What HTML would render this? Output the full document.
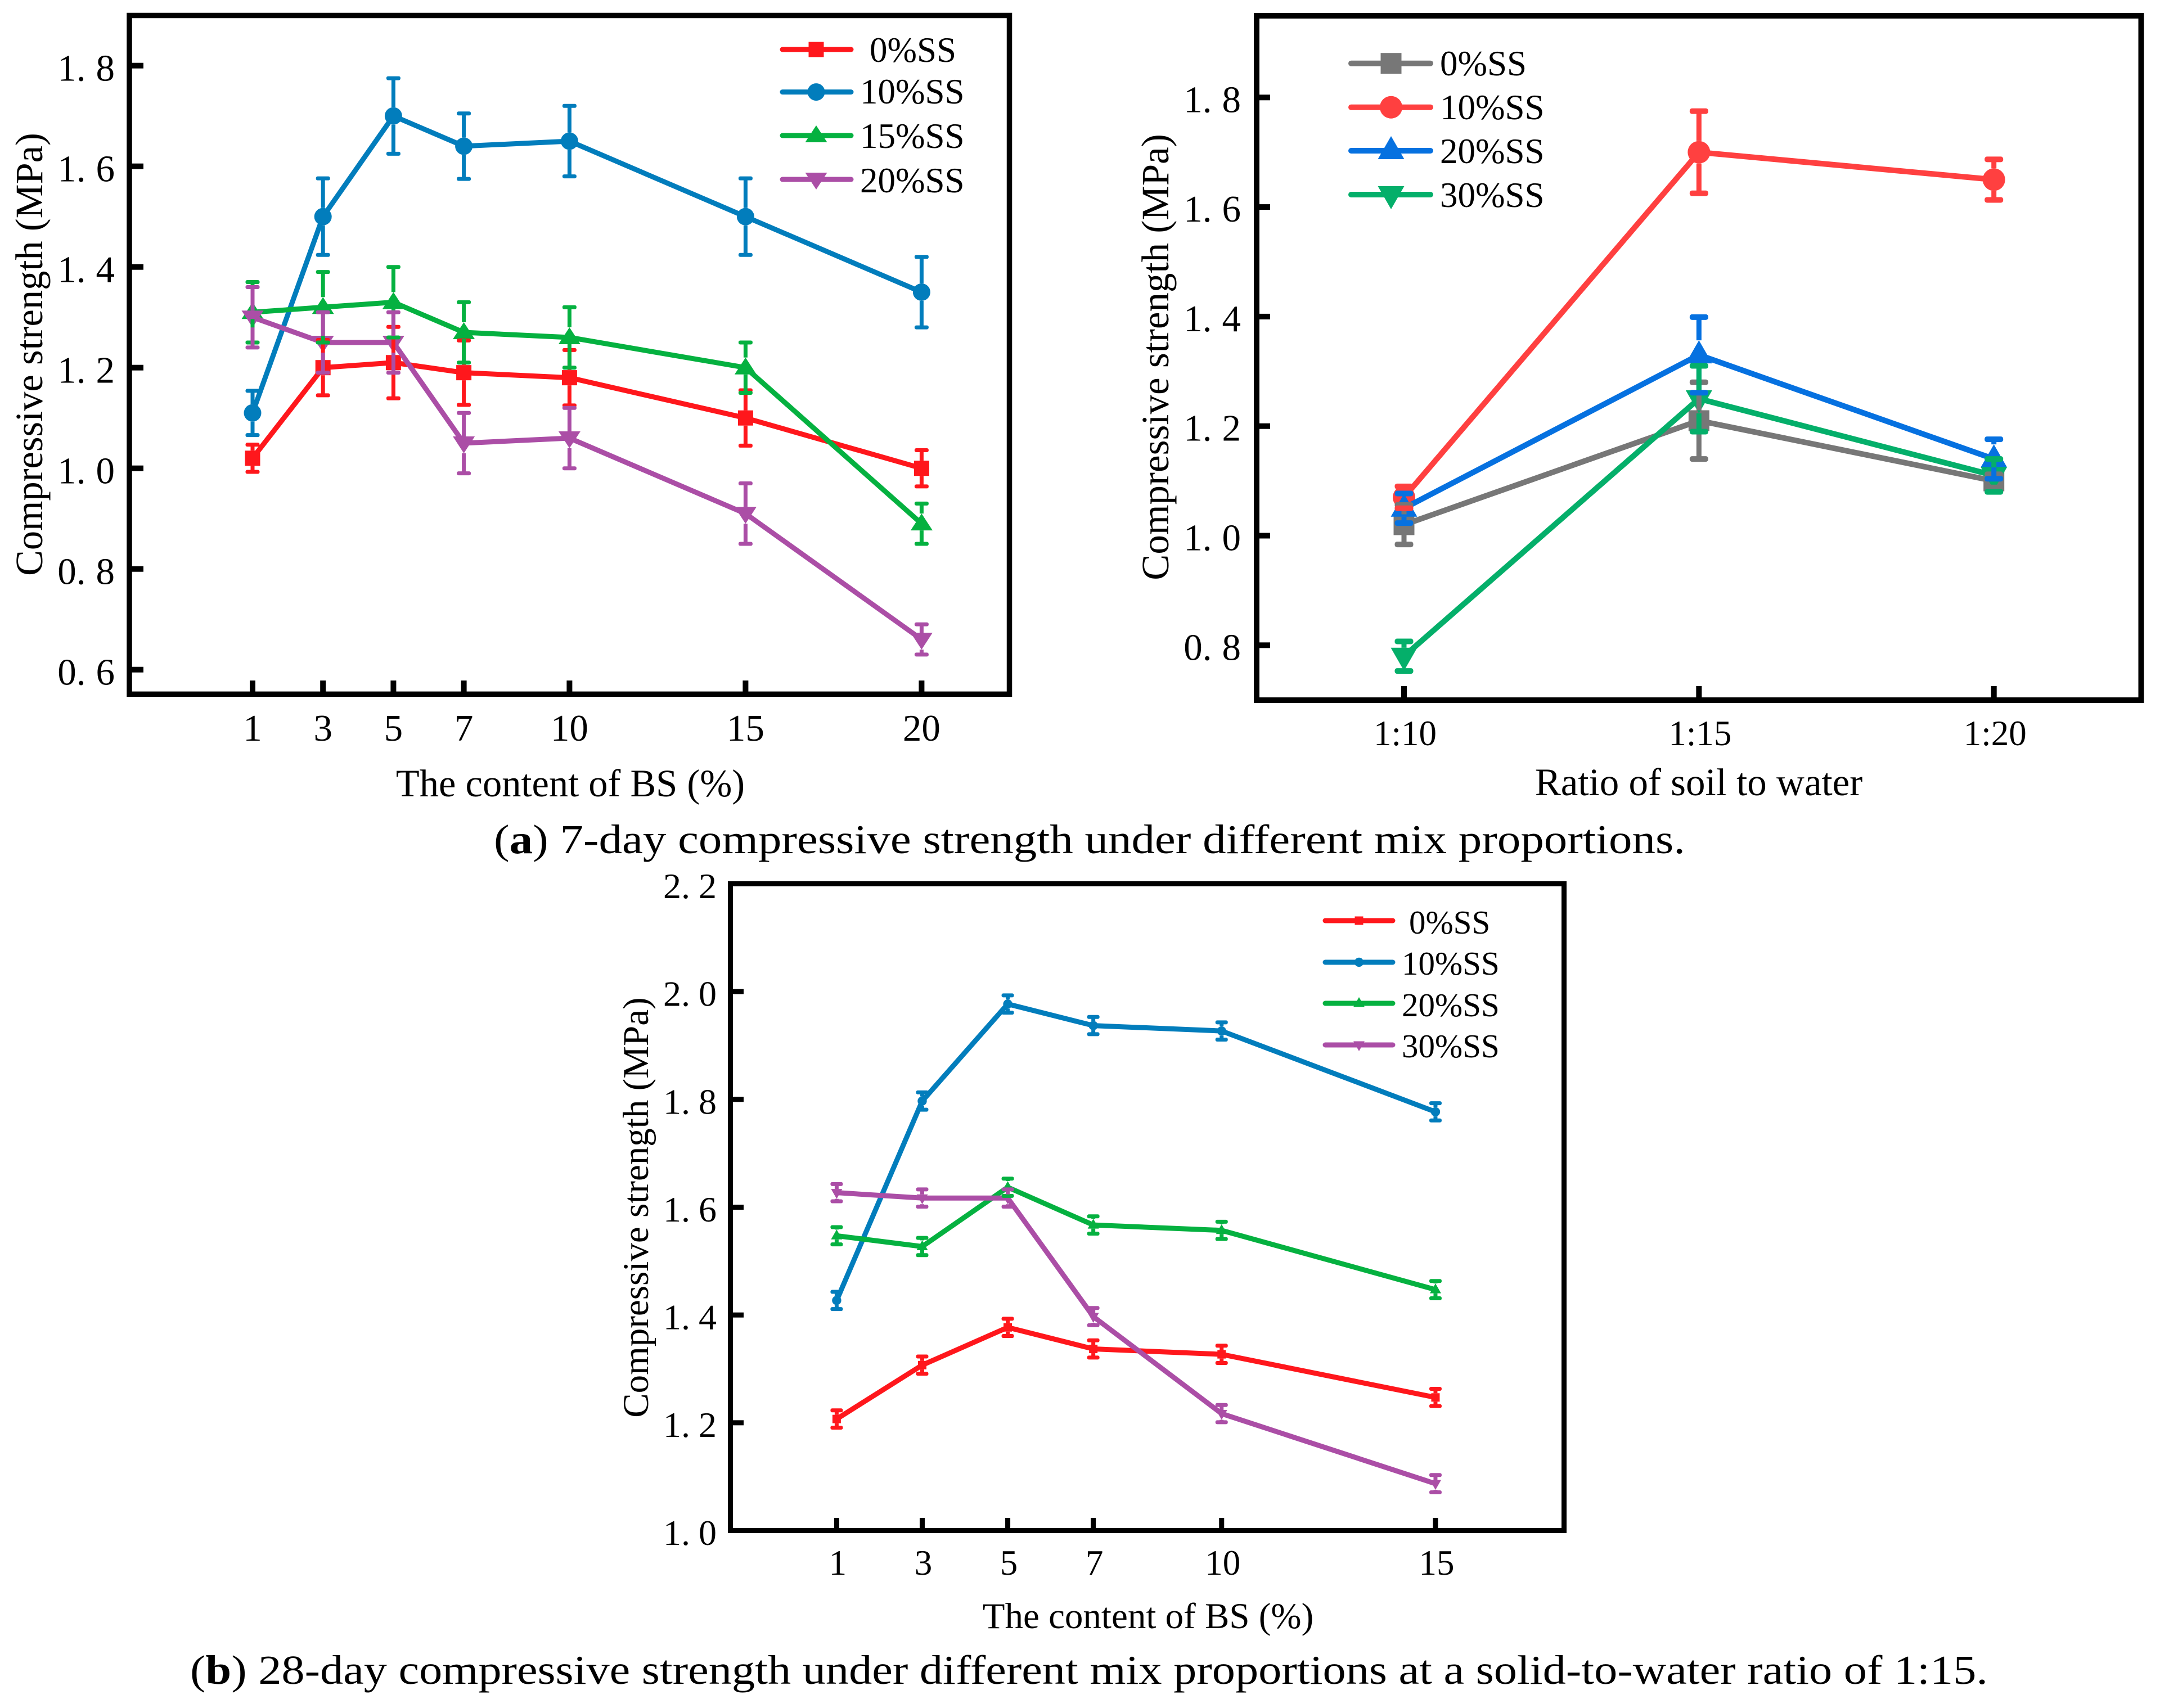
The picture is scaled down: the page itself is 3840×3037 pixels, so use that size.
<!DOCTYPE html>
<html lang="en">
<head>
<meta charset="utf-8">
<title>Compressive strength charts</title>
<style>
html,body{margin:0;padding:0;background:#fff}
svg{display:block}
text{font-family:"Liberation Serif",serif;fill:#000}
</style>
</head>
<body>
<svg id="fig" xmlns="http://www.w3.org/2000/svg" width="3840" height="3037" viewBox="0 0 3840 3037">
<rect x="0" y="0" width="3840" height="3037" fill="#fff"/>
<text x="878" y="1517" font-size="73" textLength="2118" lengthAdjust="spacingAndGlyphs">(<tspan font-weight="bold">a</tspan>) 7-day compressive strength under different mix proportions.</text>
<text x="338" y="2994" font-size="73" textLength="3196" lengthAdjust="spacingAndGlyphs">(<tspan font-weight="bold">b</tspan>) 28-day compressive strength under different mix proportions at a solid-to-water ratio of 1:15.</text>
</svg>
<script>
// ---------- Chart A data: 7-day strength vs BS content ----------
const aCategories = [1, 3, 5, 7, 10, 15, 20];
const aYTicks = [0.6, 0.8, 1.0, 1.2, 1.4, 1.6, 1.8];
const aNames = ['0%SS', '10%SS', '15%SS', '20%SS'];
const aSS0 = [1.02, 1.20, 1.21, 1.19, 1.18, 1.10, 1.00];
const aSS0Err = [0.027, 0.055, 0.071, 0.064, 0.055, 0.055, 0.036];
const aSS10 = [1.11, 1.50, 1.70, 1.64, 1.65, 1.50, 1.35];
const aSS10Err = [0.044, 0.076, 0.075, 0.065, 0.070, 0.076, 0.070];
const aSS15 = [1.31, 1.32, 1.33, 1.27, 1.26, 1.20, 0.89];
const aSS15Err = [0.060, 0.070, 0.070, 0.060, 0.060, 0.050, 0.040];
const aSS20 = [1.30, 1.25, 1.25, 1.05, 1.06, 0.91, 0.66];
const aSS20Err = [0.060, 0.060, 0.060, 0.060, 0.060, 0.060, 0.030];

// ---------- Chart B data: 7-day strength vs soil/water ratio ----------
const bCategories = ['1:10', '1:15', '1:20'];
const bYTicks = [0.8, 1.0, 1.2, 1.4, 1.6, 1.8];
const bNames = ['0%SS', '10%SS', '20%SS', '30%SS'];
const bSS0 = [1.02, 1.21, 1.10];
const bSS0Err = [0.036, 0.070, 0.012];
const bSS10 = [1.07, 1.70, 1.65];
const bSS10Err = [0.020, 0.075, 0.037];
const bSS20 = [1.05, 1.33, 1.14];
const bSS20Err = [0.027, 0.069, 0.036];
const bSS30 = [0.78, 1.25, 1.11];
const bSS30Err = [0.027, 0.060, 0.030];

// ---------- Chart C data: 28-day strength vs BS content ----------
const cCategories = [1, 3, 5, 7, 10, 15];
const cYTicks = [1.0, 1.2, 1.4, 1.6, 1.8, 2.0, 2.2];
const cNames = ['0%SS', '10%SS', '20%SS', '30%SS'];
const cSS0 = [1.207, 1.307, 1.377, 1.337, 1.327, 1.247];
const cSS0Err = [0.016, 0.016, 0.016, 0.016, 0.016, 0.016];
const cSS10 = [1.427, 1.797, 1.977, 1.937, 1.927, 1.777];
const cSS10Err = [0.016, 0.016, 0.016, 0.016, 0.016, 0.016];
const cSS20 = [1.547, 1.527, 1.637, 1.567, 1.557, 1.447];
const cSS20Err = [0.016, 0.016, 0.016, 0.016, 0.016, 0.016];
const cSS30 = [1.627, 1.617, 1.617, 1.397, 1.217, 1.087];
const cSS30Err = [0.016, 0.016, 0.016, 0.016, 0.016, 0.016];

const svg = document.getElementById('fig');
const NS = 'http://www.w3.org/2000/svg';

function mk(tag, attrs, parent) {
  const el = document.createElementNS(NS, tag);
  for (const k in attrs) el.setAttribute(k, attrs[k]);
  parent.appendChild(el);
  return el;
}

function markerShape(kind, x, y, color, size, parent) {
  let el;
  if (kind === 'square') {
    el = mk('rect', {x: x - size.sq, y: y - size.sq, width: size.sq * 2, height: size.sq * 2, fill: color}, parent);
  } else if (kind === 'circle') {
    el = mk('circle', {cx: x, cy: y, r: size.r, fill: color}, parent);
  } else if (kind === 'up') {
    el = mk('polygon', {points: (x) + ',' + (y - size.tip) + ' ' + (x + size.tw) + ',' + (y + size.flat) + ' ' + (x - size.tw) + ',' + (y + size.flat), fill: color}, parent);
  } else {
    el = mk('polygon', {points: (x) + ',' + (y + size.tip) + ' ' + (x + size.tw) + ',' + (y - size.flat) + ' ' + (x - size.tw) + ',' + (y - size.flat), fill: color}, parent);
  }
  
  
  return el;
}

function gaps(kind, size) {
  if (kind === 'square') return [size.sq, size.sq];
  if (kind === 'circle') return [size.r, size.r];
  if (kind === 'up') return [size.tip, size.flat];
  return [size.flat, size.tip];
}

function drawChart(c) {
  const g = mk('g', {}, svg);
  
  
  const xPos = c.xPos;
  const yPos = v => c.y0 - (v - c.v0) * c.ky;

  // y ticks and labels
  c.yTicks.forEach(v => {
    const y = yPos(v);
    if (v > c.vMin && v < c.vMax) {
      const t = mk('rect', {x: c.L, y: y - c.tickW / 2, width: c.tickY - c.L, height: c.tickW, fill: '#000'}, g);
      
      
    }
    const lab = mk('text', {x: c.yLabelX, y: y + c.yLabelDy, 'font-size': c.yLabelSize, 'text-anchor': 'end', dx: '0 0 ' + c.yLabelGap}, g);
    lab.textContent = v.toFixed(1);
    
    
  });

  // x ticks and labels
  c.categories.forEach((cat, i) => {
    const x = xPos(cat, i);
    const t = mk('rect', {x: x - c.tickW / 2, y: c.tickX, width: c.tickW, height: c.B - c.tickX, fill: '#000'}, g);
    
    
    const lab = mk('text', {x: x + c.xLabelDx, y: c.xLabelY, 'font-size': c.xLabelSize, 'text-anchor': 'middle'}, g);
    lab.textContent = String(cat);
    
    
  });

  // frame
  const frame = mk('rect', {x: c.L, y: c.T, width: c.R - c.L, height: c.B - c.T, fill: 'none', stroke: '#000', 'stroke-width': c.frameW}, g);
  
  

  // titles
  const xt = mk('text', {x: c.xTitleX, y: c.xTitleY, 'font-size': c.xTitleSize, 'text-anchor': 'middle'}, g);
  xt.textContent = c.xTitle;
  
  
  const yt = mk('text', {x: 0, y: 0, 'font-size': c.yTitleSize, 'text-anchor': 'middle', transform: 'translate(' + c.yTitleX + ' ' + c.yTitleY + ') rotate(-90)'}, g);
  yt.textContent = 'Compressive strength (MPa)';
  
  

  // lines + markers
  c.series.forEach(s => {
    const pts = s.values.map((v, i) => xPos(c.categories[i], i) + ',' + yPos(v)).join(' ');
    const line = mk('polyline', {points: pts, fill: 'none', stroke: s.color, 'stroke-width': c.lineW, 'stroke-linejoin': 'round', 'stroke-linecap': 'round'}, g);
    
    
    s.values.forEach((v, i) => {
      markerShape(s.kind, xPos(c.categories[i], i), yPos(v), s.color, c.size, g);
    });
  });

  // error bars are drawn after all markers, leaving the series' own marker clear
  c.series.forEach(s => {
    const gp = gaps(s.kind, c.size);
    s.values.forEach((v, i) => {
      const x = xPos(c.categories[i], i);
      const y = yPos(v);
      const yUp = yPos(v + s.errs[i]);
      const yDn = yPos(v - s.errs[i]);
      if (y - gp[0] > yUp) {
        const a = mk('line', {x1: x, x2: x, y1: y - gp[0], y2: yUp, stroke: s.color, 'stroke-width': c.errW}, g);
        
        
      }
      if (y + gp[1] < yDn) {
        const b = mk('line', {x1: x, x2: x, y1: y + gp[1], y2: yDn, stroke: s.color, 'stroke-width': c.errW}, g);
        
        
      }
      [yUp, yDn].forEach(cy => {
        const cap = mk('rect', {x: x - c.capW / 2, y: cy - c.capH / 2, width: c.capW, height: c.capH, rx: c.capH / 2.4, ry: c.capH / 2.4, fill: s.color}, g);
        
        
      });
    });
  });

  // legend
  c.series.forEach((s, i) => {
    const ly = c.legend.ys[i];
    const le = mk('g', {}, g);
    
    
    mk('line', {x1: c.legend.x1, x2: c.legend.x2, y1: ly, y2: ly, stroke: s.color, 'stroke-width': c.legend.w, 'stroke-linecap': 'round'}, le);
    markerShape(s.kind, c.legend.mx, ly, s.color, c.size, le);
    const tx = mk('text', {x: s.label.length === 4 ? c.legend.tx0 : c.legend.tx, y: c.legend.tys[i], 'font-size': c.legend.size}, le);
    tx.textContent = s.label;
    
    
  });
}

const aRed = '#FF171C', aBlue = '#027DBC', aGreen = '#05B140', aPurple = '#AB4EA6';
drawChart({
  name: 'chart-7day-bs-content',
  categories: aCategories, yTicks: aYTicks,
  xPos: v => 449 + (v - 1) * 62.6,
  y0: 1190.7, v0: 0.6, ky: 895, vMin: 0.56, vMax: 1.89,
  L: 230, R: 1794.5, T: 27.5, B: 1234.3, frameW: 9.5,
  tickW: 10, tickY: 255, tickX: 1210,
  yLabelX: 204, yLabelDy: 27, yLabelSize: 67, yLabelGap: 18,
  xLabelY: 1317, xLabelSize: 67, xLabelDx: 0,
  xTitle: 'The content of BS (%)', xTitleX: 1014, xTitleY: 1416, xTitleSize: 68.5,
  yTitleX: 75, yTitleY: 630, yTitleSize: 68.5,
  lineW: 9, errW: 7, capW: 25, capH: 7,
  size: {sq: 13.5, r: 15.5, tw: 19.5, tip: 18, flat: 12},
  series: [
    {label: aNames[0], values: aSS0, errs: aSS0Err, color: aRed, kind: 'square'},
    {label: aNames[1], values: aSS10, errs: aSS10Err, color: aBlue, kind: 'circle'},
    {label: aNames[2], values: aSS15, errs: aSS15Err, color: aGreen, kind: 'up'},
    {label: aNames[3], values: aSS20, errs: aSS20Err, color: aPurple, kind: 'down'}
  ],
  legend: {x1: 1391, x2: 1513, mx: 1451, w: 9, ys: [88, 163.6, 241, 319], tys: [110, 184, 263, 342], tx: 1529, tx0: 1546, size: 63}
});

const bGrey = '#777777', bRed = '#FF4040', bBlue = '#0671E0', bGreen = '#04AF6A';
drawChart({
  name: 'chart-7day-soil-water-ratio',
  categories: bCategories, yTicks: bYTicks,
  xPos: (cat, i) => 2496 + i * 524.35,
  y0: 1147.3, v0: 0.8, ky: 974, vMin: 0.72, vMax: 1.94,
  L: 2234, R: 3806.5, T: 28, B: 1245, frameW: 10,
  tickW: 10, tickY: 2258, tickX: 1220,
  yLabelX: 2206, yLabelDy: 26, yLabelSize: 67, yLabelGap: 18,
  xLabelY: 1325, xLabelSize: 63, xLabelDx: 2,
  xTitle: 'Ratio of soil to water', xTitleX: 3020, xTitleY: 1414, xTitleSize: 69,
  yTitleX: 2077, yTitleY: 635, yTitleSize: 69,
  lineW: 10, errW: 9, capW: 33, capH: 10,
  size: {sq: 18.5, r: 20, tw: 23.5, tip: 26, flat: 15},
  series: [
    {label: bNames[0], values: bSS0, errs: bSS0Err, color: bGrey, kind: 'square'},
    {label: bNames[1], values: bSS10, errs: bSS10Err, color: bRed, kind: 'circle'},
    {label: bNames[2], values: bSS20, errs: bSS20Err, color: bBlue, kind: 'up'},
    {label: bNames[3], values: bSS30, errs: bSS30Err, color: bGreen, kind: 'down'}
  ],
  legend: {x1: 2402, x2: 2543, mx: 2473, w: 10, ys: [112.7, 190.7, 268, 346], tys: [134, 212, 290, 368], tx: 2560, tx0: 2560, size: 63}
});

const cPurple = '#AB4EA6';
drawChart({
  name: 'chart-28day-bs-content',
  categories: cCategories, yTicks: cYTicks,
  xPos: v => 1487.4 + (v - 1) * 76.04,
  y0: 2721.5, v0: 1.0, ky: 958.3, vMin: 1.01, vMax: 2.19,
  L: 1298.5, R: 2780.5, T: 1571.5, B: 2721.5, frameW: 9,
  tickW: 9, tickY: 1322, tickX: 2699,
  yLabelX: 1274, yLabelDy: 25.4, yLabelSize: 64, yLabelGap: 15,
  xLabelY: 2800, xLabelSize: 63, xLabelDx: 2,
  xTitle: 'The content of BS (%)', xTitleX: 2041, xTitleY: 2895, xTitleSize: 65,
  yTitleX: 1152, yTitleY: 2147, yTitleSize: 65,
  lineW: 9, errW: 7, capW: 22, capH: 7,
  size: {sq: 7.5, r: 8.2, tw: 10, tip: 11, flat: 6.5},
  series: [
    {label: cNames[0], values: cSS0, errs: cSS0Err, color: aRed, kind: 'square'},
    {label: cNames[1], values: cSS10, errs: cSS10Err, color: aBlue, kind: 'circle'},
    {label: cNames[2], values: cSS20, errs: cSS20Err, color: aGreen, kind: 'up'},
    {label: cNames[3], values: cSS30, errs: cSS30Err, color: cPurple, kind: 'down'}
  ],
  legend: {x1: 2356, x2: 2476, mx: 2416, w: 9, ys: [1637, 1711, 1784, 1858], tys: [1660, 1733, 1807, 1880], tx: 2492, tx0: 2505, size: 59}
});
</script>
</body>
</html>
